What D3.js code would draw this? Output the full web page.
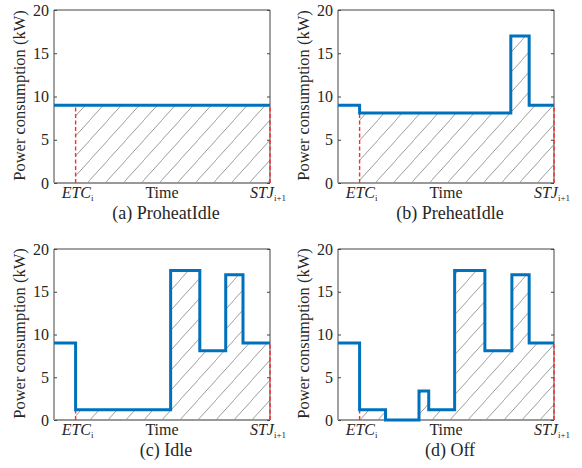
<!DOCTYPE html>
<html>
<head>
<meta charset="utf-8">
<script src="https://cdn.jsdelivr.net/npm/d3@7"></script>
<style>
  body { margin: 0; background: #fff; }
  text { font-family: "Liberation Serif", "Times New Roman", serif; fill: #262626; }
</style>
</head>
<body>
<svg id="chart" width="582" height="468"></svg>
<script>
// time is normalised 0..100 on every panel, power in kW
var yTicks = [0, 5, 10, 15, 20];
var etcTime = 10;

var breaksA = [0, 10, 100];
var levelsA = [9, 9];

var breaksB = [0, 10, 80, 88.5, 100];
var levelsB = [9, 8.1, 17, 9];

var breaksC = [0, 10, 54, 67.5, 79.5, 87.5, 100];
var levelsC = [9, 1.2, 17.5, 8.1, 17, 9];

var breaksD = [0, 10, 22, 37.5, 42, 54, 68, 80.5, 88.5, 100];
var levelsD = [9, 1.2, 0, 3.4, 1.2, 17.5, 8.1, 17, 9];

var captions = ["(a) ProheatIdle", "(b) PreheatIdle", "(c) Idle", "(d) Off"];

var panels = [
  {breaks: breaksA, levels: levelsA, caption: captions[0], x0: 54, x1: 270, y0: 10, y1: 183},
  {breaks: breaksB, levels: levelsB, caption: captions[1], x0: 338, x1: 554, y0: 10, y1: 183},
  {breaks: breaksC, levels: levelsC, caption: captions[2], x0: 54, x1: 270, y0: 249, y1: 420},
  {breaks: breaksD, levels: levelsD, caption: captions[3], x0: 338, x1: 554, y0: 249, y1: 420}
];

var svg = d3.select("#chart");
var defs = svg.append("defs");

// diagonal hatch
var pat = defs.append("pattern")
  .attr("id", "hatch")
  .attr("patternUnits", "userSpaceOnUse")
  .attr("width", 18).attr("height", 20);
pat.append("path")
  .attr("d", "M-2,22 L20,-2")
  .attr("stroke", "#555").attr("stroke-width", 0.6).attr("fill", "none");

function drawPanel(p, idx) {
  var x = d3.scaleLinear().domain([0, 100]).range([p.x0, p.x1]);
  var y = d3.scaleLinear().domain([0, 20]).range([p.y1, p.y0]);
  var g = svg.append("g");

  var pts = p.levels.map(function(v, i){ return [p.breaks[i], v]; });
  pts.push([100, p.levels[p.levels.length - 1]]);

  var etcIdx = p.breaks.indexOf(etcTime);
  var areaPts = pts.slice(etcIdx);

  var area = d3.area()
    .x(function(d){ return x(d[0]); })
    .y0(y(0))
    .y1(function(d){ return y(d[1]); })
    .curve(d3.curveStepAfter);

  g.append("path")
    .attr("d", area(areaPts))
    .attr("fill", "url(#hatch)");

  // axes box
  g.append("line").attr("x1", p.x0).attr("x2", p.x0).attr("y1", p.y0).attr("y2", p.y1)
    .attr("stroke", "#444").attr("stroke-width", 1);
  g.append("line").attr("x1", p.x1).attr("x2", p.x1).attr("y1", p.y0).attr("y2", p.y1)
    .attr("stroke", "#444").attr("stroke-width", 1);
  g.append("line").attr("x1", p.x0).attr("x2", p.x1).attr("y1", p.y0).attr("y2", p.y0)
    .attr("stroke", "#444").attr("stroke-width", 1);
  g.append("line").attr("x1", p.x0).attr("x2", p.x1).attr("y1", p.y1).attr("y2", p.y1)
    .attr("stroke", "#999").attr("stroke-width", 2);

  // y axis
  var yAxis = d3.axisLeft(y).tickValues(yTicks).tickSize(-3).tickPadding(5);
  var ya = g.append("g").attr("transform", "translate(" + p.x0 + ",0)").call(yAxis);
  ya.select(".domain").remove();
  ya.selectAll(".tick line").attr("stroke", "#444");
  ya.selectAll(".tick text").style("font-size", "16px").style("font-family", "Liberation Serif").attr("fill", "#333");
  var yr = g.append("g").attr("transform", "translate(" + p.x1 + ",0)")
    .call(d3.axisRight(y).tickValues(yTicks).tickSize(-3).tickFormat(""));
  yr.select(".domain").remove();
  yr.selectAll(".tick line").attr("stroke", "#444");

  // red dashed markers
  var etcLevel = p.levels[etcIdx - 1];
  g.append("line")
    .attr("x1", x(etcTime)).attr("x2", x(etcTime))
    .attr("y1", y(0)).attr("y2", y(etcLevel))
    .attr("stroke", "#ff2a2a").attr("stroke-width", 1.4).attr("stroke-dasharray", "4,2.5");
  g.append("line")
    .attr("x1", x(100)).attr("x2", x(100))
    .attr("y1", y(0)).attr("y2", y(p.levels[p.levels.length - 1]))
    .attr("stroke", "#ff2a2a").attr("stroke-width", 1.4).attr("stroke-dasharray", "4,2.5");

  // power line
  var line = d3.line()
    .x(function(d){ return x(d[0]); })
    .y(function(d){ return y(d[1]); })
    .curve(d3.curveStepAfter);
  g.append("path")
    .attr("d", line(pts))
    .attr("fill", "none")
    .attr("stroke", "#0072BD")
    .attr("stroke-width", 3);

  // labels
  g.append("text")
    .attr("transform", "translate(" + (p.x0 - 29) + "," + ((p.y0 + p.y1) / 2 - 1) + ") rotate(-90)")
    .attr("text-anchor", "middle")
    .style("font-size", "16.5px")
    .text("Power consumption (kW)");

  var ly = p.y1 + 15;
  var t1 = g.append("text").attr("x", x(etcTime) + 2).attr("y", ly).attr("text-anchor", "middle")
    .style("font-size", "16px");
  t1.append("tspan").style("font-style", "italic").text("ETC");
  t1.append("tspan").attr("dy", 3).style("font-size", "9px").text("i");

  g.append("text").attr("x", (p.x0 + p.x1) / 2).attr("y", ly).attr("text-anchor", "middle")
    .style("font-size", "16px").text("Time");

  var t2 = g.append("text").attr("x", x(100) - 2).attr("y", ly).attr("text-anchor", "middle")
    .style("font-size", "16px");
  t2.append("tspan").style("font-style", "italic").text("STJ");
  t2.append("tspan").attr("dy", 3).style("font-size", "9px").text("i+1");

  g.append("text").attr("x", (p.x0 + p.x1) / 2 + 4).attr("y", p.y1 + 36).attr("text-anchor", "middle")
    .style("font-size", "18px").text(p.caption);
}

panels.forEach(drawPanel);
</script>
</body>
</html>
